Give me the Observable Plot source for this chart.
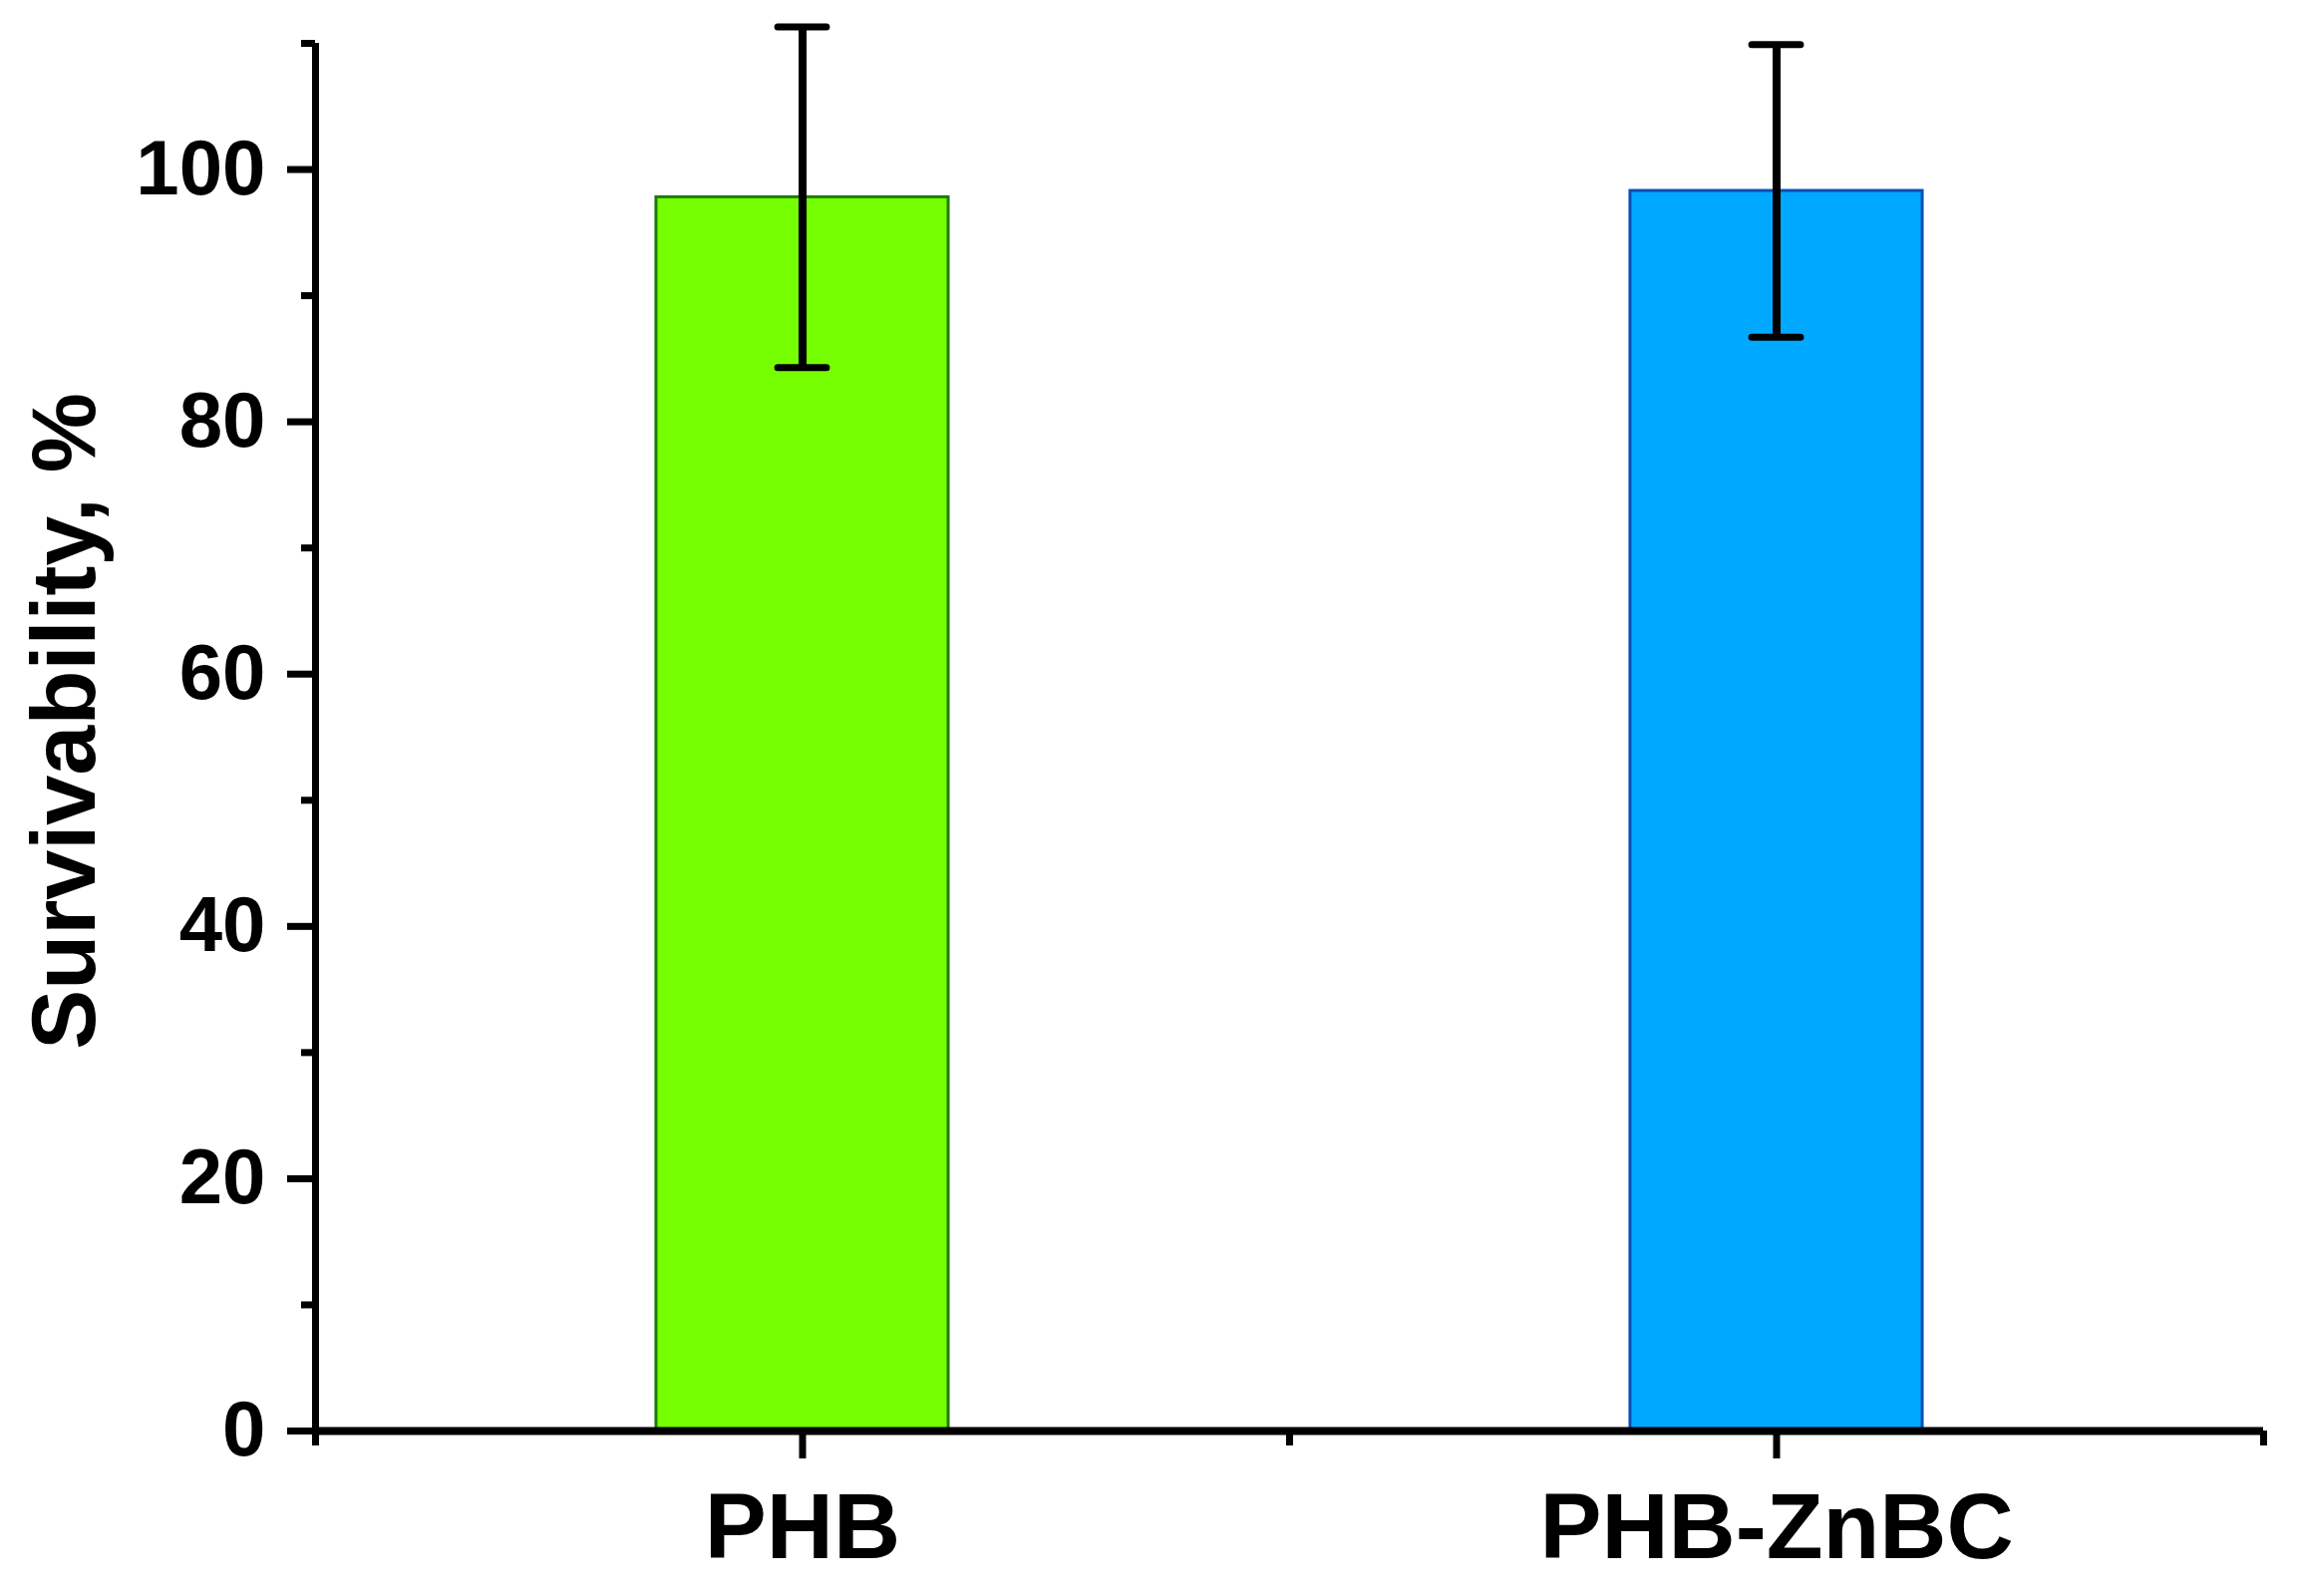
<!DOCTYPE html>
<html>
<head>
<meta charset="utf-8">
<script src="https://cdn.jsdelivr.net/npm/d3@7"></script>
<script src="https://cdn.jsdelivr.net/npm/@observablehq/plot@0.6"></script>
<style>
  html, body { margin: 0; padding: 0; background: #fff; }
</style>
</head>
<body>
<div id="chart"></div>
<script>
// ---- data ----
const categories = ["PHB", "PHB-ZnBC"];
const positions = [1, 2];
const means = [97.8, 98.3];
const errors = [13.5, 11.6];
const yMajorTicks = [0, 20, 40, 60, 80, 100];
const yMinorTicks = [10, 30, 50, 70, 90, 110];
const xMinorTicks = [0.5, 1.5, 2.5];
const yLabel = "Survivability, %";

// ---- styles ----
const barFills = ["#76FF00", "#00A8FF"];
const barStrokes = ["#1E7A10", "#0A4FB5"];
const barHalf = 0.15;
const capHalf = 0.025;

const table = categories.map((c, i) => ({cat: c, pos: positions[i], mean: means[i], err: errors[i]}));

const font = "'Liberation Sans', Arial, Helvetica, sans-serif";

const chart = Plot.plot({
  width: 2306,
  height: 1601,
  marginLeft: 316,
  marginRight: 36,
  marginTop: 43,
  marginBottom: 166,
  style: {fontFamily: font, fontWeight: "bold", color: "black", background: "white"},
  x: {domain: [0.5, 2.5], label: null},
  y: {domain: [0, 110], label: null},
  marks: [
    ...table.map((d, i) => Plot.rectY([d], {
      x1: r => r.pos - barHalf,
      x2: r => r.pos + barHalf,
      y1: 0,
      y2: "mean",
      fill: barFills[i],
      stroke: barStrokes[i],
      strokeWidth: 3
    })),
    Plot.ruleX(table, {x: "pos", y1: d => d.mean - d.err, y2: d => d.mean + d.err, stroke: "black", strokeWidth: 8}),
    Plot.ruleY(table, {y: d => d.mean + d.err, x1: d => d.pos - capHalf, x2: d => d.pos + capHalf, stroke: "black", strokeWidth: 7, strokeLinecap: "round"}),
    Plot.ruleY(table, {y: d => d.mean - d.err, x1: d => d.pos - capHalf, x2: d => d.pos + capHalf, stroke: "black", strokeWidth: 7, strokeLinecap: "round"}),
    // axis lines
    Plot.ruleX([0.5], {stroke: "black", strokeWidth: 7}),
    Plot.ruleY([0], {stroke: "black", strokeWidth: 8}),
    // y axis
    Plot.axisY({ticks: yMajorTicks, tickSize: 28, tickPadding: 22, fontSize: 78, fontWeight: "bold", strokeWidth: 7, label: null}),
    Plot.axisY({ticks: yMinorTicks, tickSize: 14, tickFormat: () => "", strokeWidth: 7, label: null}),
    // x axis
    Plot.axisX({ticks: positions, tickSize: 28, tickPadding: 33, tickFormat: v => categories[positions.indexOf(v)], fontSize: 93, fontWeight: "bold", strokeWidth: 7, label: null}),
    Plot.axisX({ticks: xMinorTicks, tickSize: 15, tickFormat: () => "", strokeWidth: 7, label: null}),
    // y label
    Plot.text([yLabel], {frameAnchor: "left", textAnchor: "middle", rotate: -90, dx: -250, dy: -16, fontSize: 90, fontWeight: "bold", lineAnchor: "middle", fill: "black"})
  ]
});

document.getElementById("chart").appendChild(chart);
</script>
</body>
</html>
